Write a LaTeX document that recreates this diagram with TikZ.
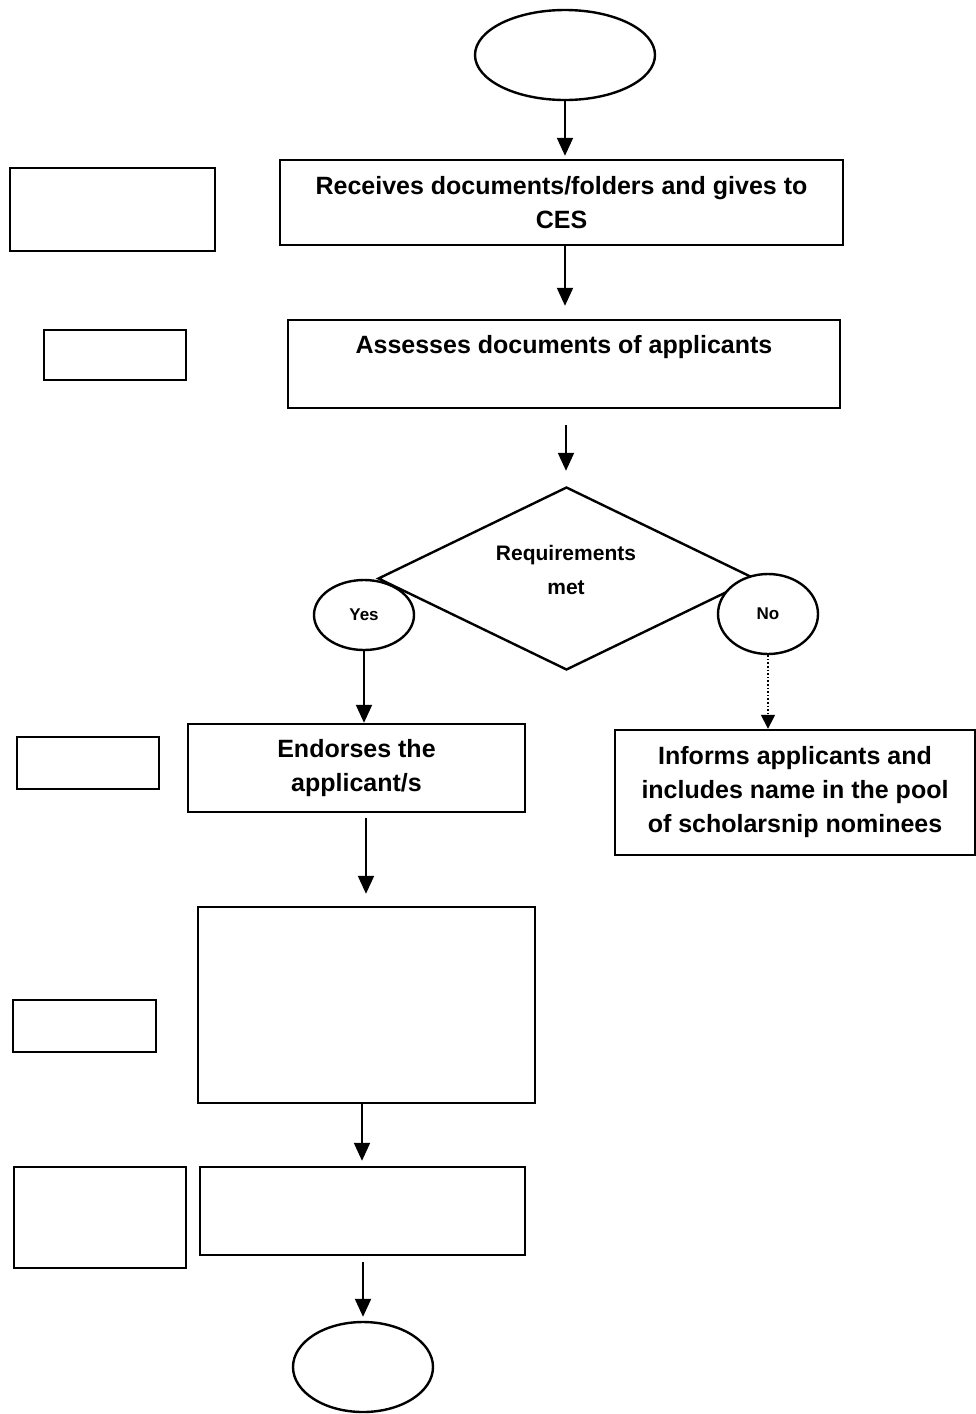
\documentclass[tikz,border=0pt]{standalone}
\usepackage{fontspec}
\setmainfont{Liberation Sans}
\usetikzlibrary{shapes.geometric,arrows.meta}
\begin{document}
\begin{tikzpicture}[x=1pt,y=-1pt,line width=2.4pt,
  box/.style={draw,rectangle,line width=2.4pt,inner sep=0pt,align=center,font=\bfseries\fontsize{25}{34}\selectfont},
  oval/.style={draw,ellipse,line width=2.4pt,inner sep=0pt,fill=white},
  arr/.style={line width=2pt,-{Triangle[width=16pt,length=18pt]}},
  darr/.style={line width=1.6pt,dotted,-{Triangle[width=14pt,length=14pt]}}]
\useasboundingbox (0,0) rectangle (975,1414);
% main column
\node[oval,minimum width=180,minimum height=90] (start) at (565,55) {};
\node[box,minimum width=563,minimum height=85] (b1) at (561.5,202.5) {Receives documents/folders and gives to\\CES};
\node[box,minimum width=552,minimum height=88] (b2) at (564,364) {};
\node[font=\bfseries\fontsize{25}{34}\selectfont] (t2) at (564,347) {Assesses documents of applicants};
\coordinate (b2out) at (566,425);
\node[draw,diamond,inner sep=0pt,minimum width=377,minimum height=183,line width=2.4pt] (dec) at (566.5,578.5) {};
\node[align=center,font=\bfseries\fontsize{21}{34}\selectfont] (dectext) at (566,570) {Requirements\\met};
\node[oval,minimum width=100,minimum height=70,font=\bfseries\fontsize{17}{20}\selectfont] (yes) at (364,615) {Yes};
\node[oval,minimum width=100,minimum height=80,font=\bfseries\fontsize{17}{20}\selectfont] (no) at (768,614) {No};
\node[box,minimum width=337,minimum height=88] (b3) at (356.5,768) {Endorses the\\applicant/s};
\node[box,minimum width=360,minimum height=125] (b4) at (795,792.5) {Informs applicants and\\includes name in the pool\\of scholarsnip nominees};
\coordinate (b3out) at (366,818);
\node[box,minimum width=337,minimum height=196] (b5) at (366.5,1005) {};
\node[box,minimum width=325,minimum height=88] (b6) at (362.5,1211) {};
\coordinate (b6out) at (363,1262);
\node[oval,minimum width=140,minimum height=90] (end) at (363,1367) {};
% side boxes
\node[box,minimum width=205,minimum height=83] (s1) at (112.5,209.5) {};
\node[box,minimum width=142,minimum height=50] (s2) at (115,355) {};
\node[box,minimum width=142,minimum height=52] (s3) at (88,763) {};
\node[box,minimum width=143,minimum height=52] (s4) at (84.5,1026) {};
\node[box,minimum width=172,minimum height=101] (s5) at (100,1217.5) {};
% connectors
\draw[arr] (start.south) -- ([yshift=3]b1.north -| start.south);
\draw[arr] (b1.south -| 565,0) -- ([yshift=13]b2.north -| 565,0);
\draw[arr] (b2out) -- ([yshift=15]dec.north -| b2out);
\draw[arr] (yes.south) -- (b3.north -| yes.south);
\draw[darr] (no.south) -- (b4.north -| no.south);
\draw[arr] (b3out) -- ([yshift=12]b5.north -| b3out);
\draw[arr] (b5.south -| 362,0) -- ([yshift=5]b6.north -| 362,0);
\draw[arr] (b6out) -- ([yshift=4]end.north);
\end{tikzpicture}
\end{document}
